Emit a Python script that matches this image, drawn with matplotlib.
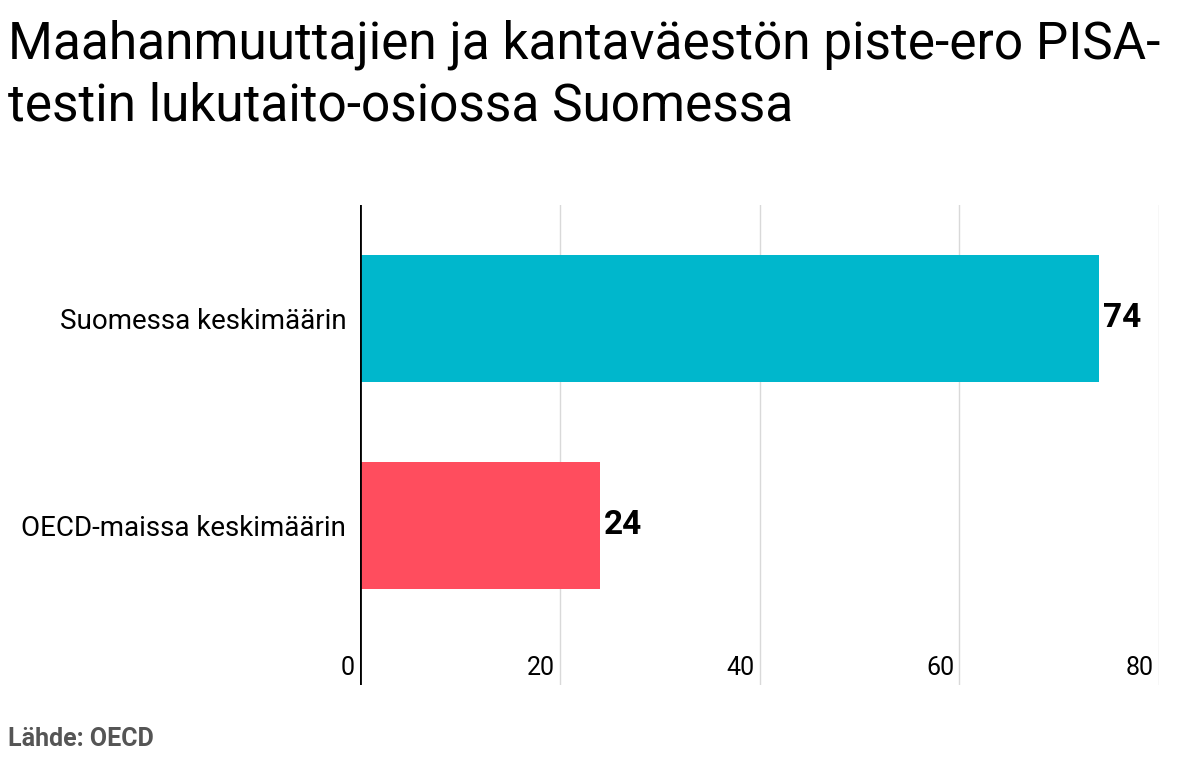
import matplotlib.pyplot as plt

plt.rcParams['font.family'] = 'Roboto'

categories = ["Suomessa keskimäärin", "OECD-maissa keskimäärin"]
values = [74, 24]
colors = ["#00b7cc", "#ff4d5e"]
ticks = [0, 20, 40, 60, 80]

fig = plt.figure(figsize=(11.99, 7.74), dpi=100)
ax = fig.add_axes([0.3003, 0.115, 0.6663, 0.62])

pos = list(range(len(categories)))
ax.barh(pos, values, height=0.614, color=colors, zorder=2)
ax.set_ylim(1.773, -0.546)
ax.set_xlim(0, 80)

for x in ticks[1:]:
    ax.axvline(x, color="#d9d9d9", lw=1, zorder=0)
    ax.text(x - 0.5, 1.69, str(x), ha="right", va="center", fontsize=18)
ax.text(-0.5, 1.69, "0", ha="right", va="center", fontsize=18)
ax.axvline(0, color="black", lw=2, zorder=3)

for p, v in zip(pos, values):
    ax.text(v + 0.4, p, str(v), ha="left", va="center", fontsize=24, fontweight="bold")

ax.set_yticks(pos)
ax.set_yticklabels(categories, fontsize=20)
ax.tick_params(axis="y", length=0, pad=10)
ax.set_xticks([])
for s in ax.spines.values():
    s.set_visible(False)

fig.text(0.007, 0.975, "Maahanmuuttajien ja kantaväestön piste-ero PISA-\ntestin lukutaito-osiossa Suomessa",
         fontsize=37, va="top", ha="left", linespacing=1.3)
fig.text(0.007, 0.045, "Lähde: OECD", fontsize=18, color="#555555", fontweight="bold", va="center")

fig.savefig("out.png", dpi=100)
